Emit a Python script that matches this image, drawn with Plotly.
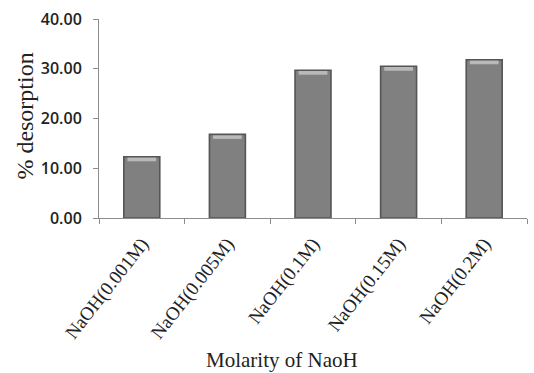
import plotly.graph_objects as go

# NaOH eluent concentrations and the desorption achieved with each
categories = ["NaOH(0.001M)", "NaOH(0.005M)", "NaOH(0.1M)", "NaOH(0.15M)", "NaOH(0.2M)"]
desorption = [12.3, 16.8, 29.7, 30.5, 31.8]
y_ticks = [0, 10, 20, 30, 40]
y_tick_labels = ["0.00", "10.00", "20.00", "30.00", "40.00"]

bevel = 0.9   # height of the lighter cap at the top of each bar
bar_w = 0.42
serif = "Liberation Serif, Times New Roman, serif"

fig = go.Figure()
# bar body
fig.add_trace(go.Bar(
    x=categories, y=desorption,
    marker=dict(color="#808080", line=dict(width=0)),
    width=bar_w, hoverinfo="x+y",
))
# lighter bevelled cap, drawn from the same values
fig.add_trace(go.Bar(
    x=categories, y=[bevel] * len(desorption),
    base=[v - bevel for v in desorption],
    marker=dict(color="#b9b9b9", line=dict(width=0)),
    width=bar_w * 0.8, hoverinfo="skip",
))
# dark outline around each bar
fig.add_trace(go.Bar(
    x=categories, y=desorption,
    marker=dict(color="rgba(0,0,0,0)", line=dict(color="#555555", width=1.6)),
    width=bar_w, hoverinfo="skip",
))

fig.update_layout(
    width=534, height=373,
    margin=dict(l=99, r=7, t=19, b=155),
    paper_bgcolor="white", plot_bgcolor="white",
    showlegend=False, barmode="overlay",
    xaxis=dict(
        showline=True, linecolor="#8c8c8c", linewidth=1,
        ticks="outside", tickson="boundaries", ticklen=5, tickcolor="#8c8c8c",
        tickangle=-52, ticklabelstandoff=6,
        tickfont=dict(family=serif, size=19, color="#222222"),
        showgrid=False,
    ),
    yaxis=dict(
        range=[0, 40], tickvals=y_ticks, ticktext=y_tick_labels,
        showline=True, linecolor="#8c8c8c", linewidth=1,
        ticks="outside", ticklen=5, tickcolor="#8c8c8c", ticklabelstandoff=8,
        tickfont=dict(family="Open Sans, Liberation Sans, sans-serif", size=16,
                      color="#222222", weight=600),
        showgrid=False, zeroline=False,
    ),
    annotations=[
        dict(text="Molarity of NaoH", xref="paper", yref="paper",
             x=0.4276, y=-0.714, xanchor="center", yanchor="middle", showarrow=False,
             font=dict(family=serif, size=21, color="#222222")),
        dict(text="% desorption", xref="paper", yref="paper",
             x=-0.175, y=0.51, xanchor="center", yanchor="middle", showarrow=False, textangle=-90,
             font=dict(family=serif, size=24, color="#222222")),
    ],
)

fig.write_html("out.html")
